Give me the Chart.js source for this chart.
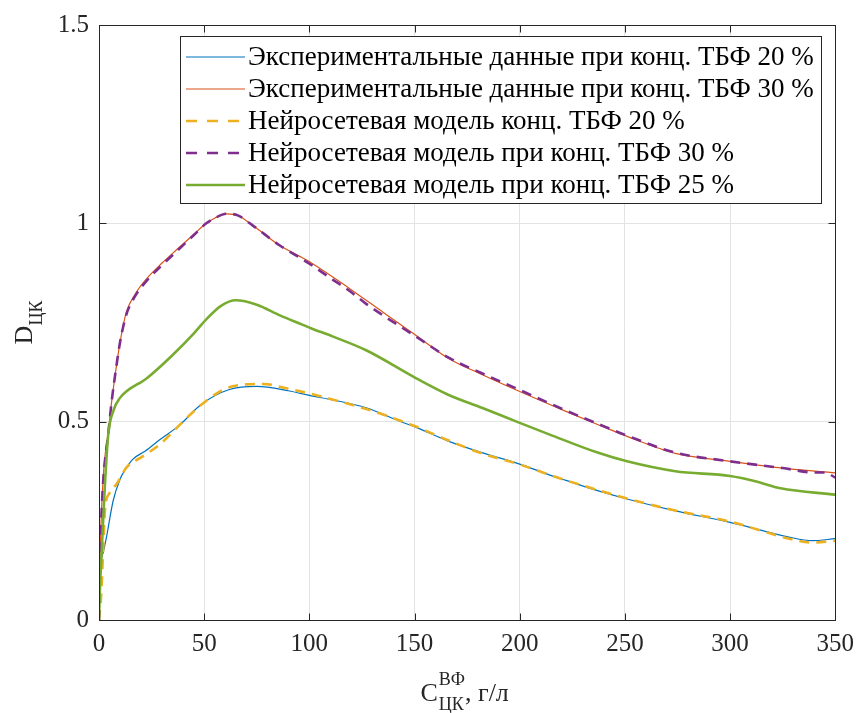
<!DOCTYPE html>
<html>
<head>
<meta charset="utf-8">
<script src="https://cdn.jsdelivr.net/npm/chart.js@4.4.1/dist/chart.umd.min.js"></script>
<style>
  html, body { margin: 0; padding: 0; background: #ffffff; }
  #wrap { width: 863px; height: 713px; }
</style>
</head>
<body>
<div id="wrap"><canvas id="c" width="863" height="713"></canvas></div>
<script>
// ---- Data ----
const xTickValues = [0, 50, 100, 150, 200, 250, 300, 350];
const xTickLabels = ['0', '50', '100', '150', '200', '250', '300', '350'];
const yTickValues = [0, 0.5, 1, 1.5];
const yTickLabels = ['0', '0.5', '1', '1.5'];

const seriesLabels = [
  'Экспериментальные данные при конц. ТБФ 20 %',
  'Экспериментальные данные при конц. ТБФ 30 %',
  'Нейросетевая модель конц. ТБФ 20 %',
  'Нейросетевая модель при конц. ТБФ 30 %',
  'Нейросетевая модель при конц. ТБФ 25 %'
];

const xExp20 = [0, 0.5, 2, 3.6, 6.7, 10, 12, 16, 22, 29, 38, 49, 62, 75, 90, 101, 111, 127, 143, 151, 166, 182, 200, 214, 222, 237, 251, 274, 300, 315, 328, 339, 350];
const yExp20 = [0, 0.12, 0.17, 0.21, 0.3, 0.355, 0.375, 0.405, 0.426, 0.455, 0.49, 0.545, 0.581, 0.589, 0.578, 0.565, 0.555, 0.535, 0.501, 0.485, 0.451, 0.422, 0.393, 0.366, 0.352, 0.326, 0.305, 0.275, 0.246, 0.226, 0.209, 0.2, 0.205];

const xExp30 = [0, 0.5, 1, 2, 3, 4.3, 6, 8, 10, 13, 17, 22.6, 30, 37, 45, 51, 55, 60.6, 66, 73, 86, 95, 101, 119, 135, 150.6, 166, 182, 200, 222, 237, 251, 274, 300, 325, 350];
const yExp30 = [0, 0.15, 0.25, 0.36, 0.42, 0.47, 0.55, 0.63, 0.7, 0.776, 0.82, 0.86, 0.9, 0.934, 0.972, 1.0, 1.013, 1.024, 1.02, 0.995, 0.944, 0.918, 0.9, 0.836, 0.776, 0.718, 0.66, 0.619, 0.576, 0.526, 0.493, 0.463, 0.42, 0.4, 0.383, 0.371];

const xNn20 = [0, 1, 2, 2.8, 5, 8.4, 13, 21, 29, 38, 48, 60, 70, 78, 90, 101, 111, 127, 143, 151, 166, 182, 200, 222, 237, 251, 274, 300, 315, 328, 339, 350];
const yNn20 = [0, 0.06, 0.18, 0.275, 0.32, 0.343, 0.384, 0.413, 0.443, 0.49, 0.54, 0.583, 0.594, 0.595, 0.583, 0.57, 0.556, 0.532, 0.503, 0.487, 0.453, 0.42, 0.392, 0.352, 0.328, 0.306, 0.276, 0.248, 0.225, 0.205, 0.195, 0.2];

const xNn30 = [0, 0.5, 1, 2, 3, 4.3, 6, 8, 10, 13, 17, 22.6, 30, 37, 45, 51, 55, 60.6, 66, 73, 86, 95, 101, 110, 119, 127, 135, 150.6, 166, 182, 200, 222, 237, 251, 274, 300, 325, 340, 345, 350];
const yNn30 = [0, 0.14, 0.24, 0.35, 0.41, 0.465, 0.55, 0.63, 0.7, 0.77, 0.815, 0.855, 0.895, 0.93, 0.97, 1.0, 1.013, 1.024, 1.02, 0.995, 0.944, 0.915, 0.895, 0.862, 0.83, 0.797, 0.768, 0.715, 0.662, 0.622, 0.58, 0.528, 0.495, 0.465, 0.422, 0.4, 0.383, 0.372, 0.372, 0.359];

const xNn25 = [0, 0.5, 1.3, 2.8, 4.4, 7, 10, 13, 22.6, 35, 45, 51, 58, 65, 75, 86, 95, 101, 111, 127, 150.6, 166, 182, 200, 214, 237, 251, 274, 300, 312, 324, 350];
const yNn25 = [0, 0.083, 0.175, 0.34, 0.468, 0.53, 0.56, 0.576, 0.609, 0.668, 0.722, 0.758, 0.792, 0.806, 0.795, 0.768, 0.748, 0.735, 0.715, 0.68, 0.61, 0.568, 0.535, 0.497, 0.468, 0.422, 0.4, 0.375, 0.363, 0.35, 0.332, 0.316];

// ---- Chart ----
const FONT = '"Liberation Serif", "Times New Roman", serif';
const AX = '#262626';
const pts = (xs, ys) => xs.map((x, i) => ({ x: x, y: ys[i] }));

function ds(label, xs, ys, color, width, dash, order) {
  return {
    label: label, data: pts(xs, ys), borderColor: color, backgroundColor: color,
    borderWidth: width, borderDash: dash, pointRadius: 0, fill: false,
    cubicInterpolationMode: 'monotone', order: order
  };
}

const datasets = [
  ds(seriesLabels[0], xExp20, yExp20, '#0072BD', 1.2, [], 5),
  ds(seriesLabels[1], xExp30, yExp30, '#D95319', 1.2, [], 4),
  ds(seriesLabels[2], xNn20, yNn20, '#EDB120', 2.6, [10, 7], 3),
  ds(seriesLabels[3], xNn30, yNn30, '#7E2F8E', 2.6, [10, 7], 2),
  ds(seriesLabels[4], xNn25, yNn25, '#77AC30', 2.6, [], 1)
];

const frame = {
  id: 'frame',
  afterDatasetsDraw(chart) {
    const ctx = chart.ctx, a = chart.chartArea;
    const xs = chart.scales.x, ys = chart.scales.y;
    ctx.save();
    ctx.strokeStyle = AX; ctx.lineWidth = 1; ctx.setLineDash([]);
    const L = Math.round(a.left) + 0.5, R = Math.round(a.right) + 0.5;
    const T = Math.round(a.top) + 0.5, B = Math.round(a.bottom) + 0.5;
    ctx.strokeRect(L, T, R - L, B - T);
    ctx.beginPath();
    xTickValues.forEach(v => {
      const p = Math.round(xs.getPixelForValue(v)) + 0.5;
      ctx.moveTo(p, B); ctx.lineTo(p, B - 7);
      ctx.moveTo(p, T); ctx.lineTo(p, T + 7);
    });
    yTickValues.forEach(v => {
      const p = Math.round(ys.getPixelForValue(v)) + 0.5;
      ctx.moveTo(L, p); ctx.lineTo(L + 7, p);
      ctx.moveTo(R, p); ctx.lineTo(R - 7, p);
    });
    ctx.stroke();
    ctx.restore();
  },
  afterDraw(chart) {
    const ctx = chart.ctx, a = chart.chartArea;
    ctx.save();
    // Legend box
    const bx = 180.5, by = 36.5, bw = 641, bh = 167;
    ctx.fillStyle = '#ffffff';
    ctx.fillRect(bx, by, bw, bh);
    ctx.strokeStyle = AX; ctx.lineWidth = 1; ctx.setLineDash([]);
    ctx.strokeRect(bx, by, bw, bh);
    ctx.font = '27px ' + FONT;
    ctx.textBaseline = 'middle';
    ctx.textAlign = 'left';
    chart.data.datasets.forEach((d, i) => {
      const yc = 57 + i * 32;
      ctx.save();
      ctx.strokeStyle = d.borderColor;
      ctx.lineWidth = d.borderWidth;
      ctx.setLineDash(d.borderDash.length ? [11, 10] : []);
      ctx.beginPath();
      ctx.moveTo(186, yc); ctx.lineTo(245, yc);
      ctx.stroke();
      ctx.restore();
      ctx.fillStyle = '#000000';
      ctx.fillText(d.label, 248, yc + 1);
    });

    // X title: C^{ВФ}_{ЦК}, г/л
    ctx.fillStyle = AX;
    ctx.textBaseline = 'alphabetic';
    const big = '26px ' + FONT, small = '18px ' + FONT;
    ctx.font = big;
    const wC = ctx.measureText('C').width;
    const wTail = ctx.measureText(', г/л').width;
    ctx.font = small;
    const wSup = ctx.measureText('ВФ').width, wSub = ctx.measureText('ЦК').width;
    const wS = Math.max(wSup, wSub);
    const total = wC + wS + wTail;
    const cx = (a.left + a.right) / 2;
    let x0 = cx - total / 2 - 3;
    const base = 701;
    ctx.font = big; ctx.fillText('C', x0, base);
    ctx.font = small;
    ctx.fillText('ВФ', x0 + wC + 1, base - 16);
    ctx.fillText('ЦК', x0 + wC + 1, base + 9);
    ctx.font = big; ctx.fillText(', г/л', x0 + wC + wS + 1, base);

    // Y title: D_{ЦК}, rotated
    ctx.save();
    ctx.translate(32, (a.top + a.bottom) / 2);
    ctx.rotate(-Math.PI / 2);
    ctx.font = big;
    const wD = ctx.measureText('D').width;
    ctx.font = small;
    const wK = ctx.measureText('ЦК').width;
    const yt = wD + wK;
    ctx.font = big; ctx.fillText('D', -yt / 2, 0);
    ctx.font = small; ctx.fillText('ЦК', -yt / 2 + wD, 10);
    ctx.restore();
    ctx.restore();
  }
};

new Chart(document.getElementById('c'), {
  type: 'line',
  data: { datasets: datasets },
  options: {
    responsive: false,
    animation: false,
    layout: { padding: { left: 0, right: 26, top: 21, bottom: 0 } },
    plugins: { legend: { display: false }, tooltip: { enabled: false } },
    scales: {
      x: {
        type: 'linear', min: 0, max: 350,
        afterBuildTicks: s => { s.ticks = xTickValues.map(v => ({ value: v })); },
        afterFit: s => { s.height = 93; },
        ticks: {
          callback: (v, i) => xTickLabels[i],
          font: { family: FONT, size: 25 }, color: AX, padding: 9, maxRotation: 0, autoSkip: false
        },
        grid: { color: '#e3e3e3', lineWidth: 1, drawTicks: false },
        border: { display: false }
      },
      y: {
        type: 'linear', min: 0, max: 1.5,
        afterBuildTicks: s => { s.ticks = yTickValues.map(v => ({ value: v })); },
        afterFit: s => { s.width = 99; },
        ticks: {
          callback: (v, i) => yTickLabels[i],
          font: { family: FONT, size: 25 }, color: AX, padding: 10, autoSkip: false
        },
        grid: { color: '#e3e3e3', lineWidth: 1, drawTicks: false },
        border: { display: false }
      }
    }
  },
  plugins: [frame]
});
</script>
</body>
</html>
